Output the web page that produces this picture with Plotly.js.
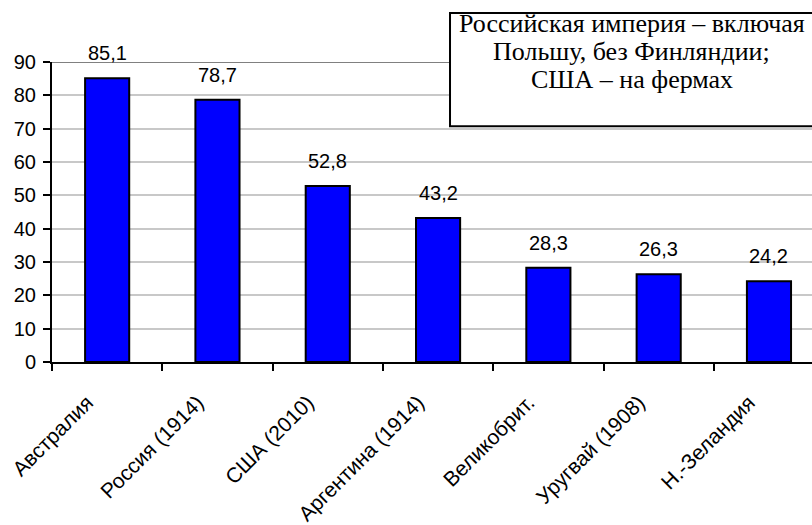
<!DOCTYPE html>
<html>
<head>
<meta charset="utf-8">
<script src="https://cdn.plot.ly/plotly-3.0.1.min.js"></script>
<style>html,body{margin:0;padding:0;background:#fff;}#chart{width:812px;height:525px;}</style>
</head>
<body>
<div id="chart"></div>
<script>
const categories = ["Австралия", "Россия (1914)", "США (2010)", "Аргентина (1914)", "Великобрит.", "Уругвай (1908)", "Н.-Зеландия"];
const values = [85.1, 78.7, 52.8, 43.2, 28.3, 26.3, 24.2];
const valueLabels = ["85,1", "78,7", "52,8", "43,2", "28,3", "26,3", "24,2"];
const yTicks = [0, 10, 20, 30, 40, 50, 60, 70, 80, 90];
const noteLines = ["Российская империя – включая", "Польшу, без Финляндии;", "США – на фермах"];

const sans = "Arial, 'Liberation Sans', sans-serif";
const serif = "'Times New Roman', 'Liberation Serif', serif";

const trace = {
  type: "bar",
  x: categories,
  y: values,
  width: 0.4,
  marker: {color: "#0000FF", line: {color: "#000000", width: 2}},
  hoverinfo: "skip"
};

const annotations = categories.map((c, i) => ({
  x: c, y: values[i], xref: "x", yref: "y",
  text: valueLabels[i], showarrow: false,
  yanchor: "bottom", yshift: 12,
  font: {family: sans, size: 20, color: "#000"}
}));
const noteY = [1.129, 1.0357, 0.9423];
noteLines.forEach((t, i) => annotations.push({
  xref: "paper", yref: "paper", x: 0.763, y: noteY[i],
  xanchor: "center", yanchor: "middle",
  text: t, showarrow: false,
  font: {family: serif, size: 26, color: "#000"}
}));

const layout = {
  width: 812, height: 525,
  margin: {l: 52, r: 0, t: 62, b: 163},
  paper_bgcolor: "#fff", plot_bgcolor: "#fff",
  showlegend: false,
  xaxis: {
    type: "category",
    range: [-0.5, 6.39],
    tickson: "boundaries",
    ticks: "outside", ticklen: 7, tickwidth: 2, tickcolor: "#000",
    showline: true, linecolor: "#000", linewidth: 2,
    showgrid: false,
    tickangle: -45,
    ticklabelstandoff: 18,
    ticklabelshift: -20,
    tickfont: {family: sans, size: 21, color: "#000"}
  },
  yaxis: {
    range: [0, 90],
    tickmode: "array", tickvals: yTicks, ticktext: yTicks.map(String),
    ticks: "outside", ticklen: 7, tickwidth: 2, tickcolor: "#000",
    showline: true, linecolor: "#000", linewidth: 2,
    showgrid: true, gridcolor: "#c8c8c8", gridwidth: 2,
    zeroline: false,
    ticklabelstandoff: 3,
    tickfont: {family: sans, size: 20, color: "#000"}
  },
  shapes: [
    {type: "line", xref: "paper", yref: "y", x0: 0, x1: 1, y0: 90, y1: 90,
     line: {color: "#808080", width: 2}, layer: "below"},
    {type: "rect", xref: "paper", yref: "paper", x0: 0.5237, x1: 1.02, y0: 0.7857, y1: 1.1635,
     fillcolor: "#fff", line: {color: "#000", width: 2}, layer: "above"}
  ],
  annotations: annotations
};

Plotly.newPlot("chart", [trace], layout, {staticPlot: true, displayModeBar: false});
</script>
</body>
</html>
